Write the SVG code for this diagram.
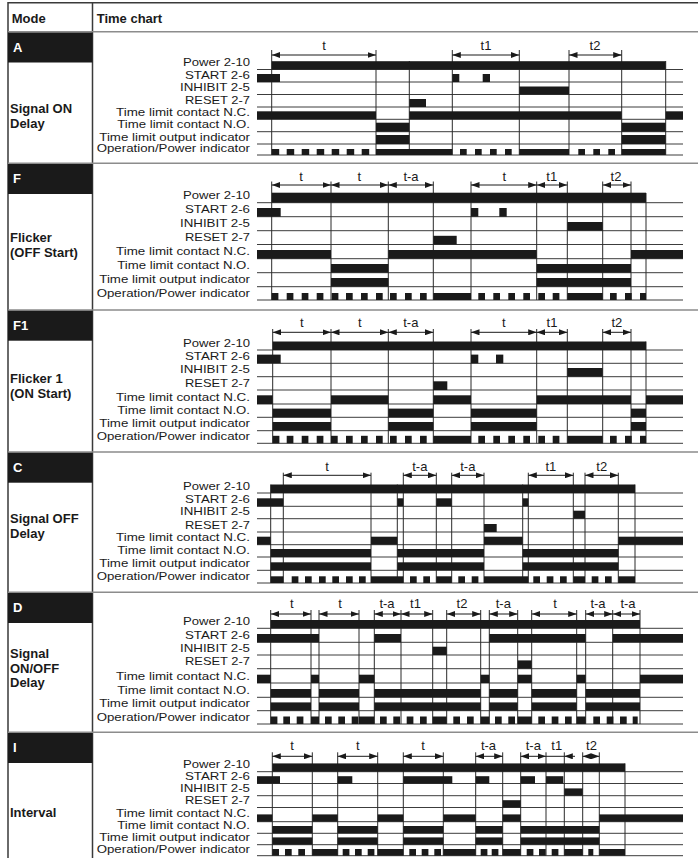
<svg xmlns="http://www.w3.org/2000/svg" width="698" height="858" viewBox="0 0 698 858">
<style>
text{font-family:"Liberation Sans",Arial,sans-serif;fill:#1a1a1a}
.hd{font-size:13px;font-weight:bold}
.bd{font-size:13px;font-weight:bold;fill:#fff}
.lb{font-size:11.5px;text-anchor:end}
.dl{font-size:13px;text-anchor:middle}
.band{fill:#1a1a1a}
.sep{stroke:#8c8c8c;stroke-width:1.5;fill:none}
.frame{stroke:#3a3a3a;stroke-width:1.5;fill:none}
.bl{stroke:#3c3c3c;stroke-width:1;fill:none}
.ev{stroke:#2a2a2a;stroke-width:1;fill:none}
.hi{fill:#1a1a1a}
.dim{stroke:#1a1a1a;stroke-width:1;marker-start:url(#ah);marker-end:url(#ah)}
.dim1{stroke:#1a1a1a;stroke-width:1}
.dimE{stroke:#1a1a1a;stroke-width:1;marker-end:url(#ah)}
</style>
<defs>
<marker id="ah" viewBox="0 0 8.5 6" refX="8.5" refY="3" markerWidth="8.5" markerHeight="6" markerUnits="userSpaceOnUse" orient="auto-start-reverse"><path d="M0,0 L8.5,3 L0,6 z" fill="#1a1a1a"/></marker>
</defs>
<rect width="698" height="858" fill="#fff"/>

<g id="table">
<path class="frame" d="M8,2.7H698M8,2V858M92.5,2.7V858"/>
<path class="sep" d="M8,31.7H698M8,163.3H698M8,310H698M8,452H698M8,592.3H698M8,732.3H698"/>
<text class="hd" x="11.7" y="22.5">Mode</text>
<text class="hd" x="96.7" y="22.5">Time chart</text>
</g>

<!-- ===== A ===== -->
<g id="mode-A">
<rect class="band" x="8" y="32.5" width="84.5" height="30"/>
<text class="bd" x="13" y="51.7">A</text>
<text class="hd" x="10" y="113">Signal ON</text>
<text class="hd" x="10" y="128">Delay</text>
<g>
<text class="lb" x="250" y="66.2" textLength="67" lengthAdjust="spacingAndGlyphs">Power 2-10</text>
<text class="lb" x="250" y="78.7" textLength="65" lengthAdjust="spacingAndGlyphs">START 2-6</text>
<text class="lb" x="250" y="91.2" textLength="70" lengthAdjust="spacingAndGlyphs">INHIBIT 2-5</text>
<text class="lb" x="250" y="103.7" textLength="65" lengthAdjust="spacingAndGlyphs">RESET 2-7</text>
<text class="lb" x="250" y="116" textLength="134" lengthAdjust="spacingAndGlyphs">Time limit contact N.C.</text>
<text class="lb" x="250" y="128.4" textLength="132.7" lengthAdjust="spacingAndGlyphs">Time limit contact N.O.</text>
<text class="lb" x="250" y="140.7" textLength="150.7" lengthAdjust="spacingAndGlyphs">Time limit output indicator</text>
<text class="lb" x="250" y="151.7" textLength="153.3" lengthAdjust="spacingAndGlyphs">Operation/Power indicator</text>
</g>
<path class="bl" d="M257,69.5H683M257,82H683M257,94.5H683M257,107H683M257,119.3H683M257,131.7H683M257,144H683M257,155H683"/>
<path class="ev" d="M271.7,50V155M376,50V155M452.3,50V155M519.3,50V155M569,50V155M621.7,50V155M409.3,61V155M665.7,61V155"/>
<g class="hi">
<rect x="271.7" y="61.2" width="394" height="8.3"/>
<rect x="257" y="74" width="23" height="8"/><rect x="452.3" y="74" width="7" height="8"/><rect x="482.7" y="74" width="7.3" height="8"/>
<rect x="519.3" y="86.5" width="49.7" height="8"/>
<rect x="409.3" y="99" width="16.7" height="8"/>
<rect x="257" y="111.3" width="119" height="8"/><rect x="409.3" y="111.3" width="212.4" height="8"/><rect x="665.7" y="111.3" width="17.3" height="8"/>
<rect x="376" y="122.7" width="33.3" height="9"/><rect x="621.7" y="122.7" width="44" height="9"/>
<rect x="376" y="135" width="33.3" height="9"/><rect x="621.7" y="135" width="44" height="9"/>
<rect x="271.7" y="149" width="7.5" height="6"/><rect x="286.7" y="149" width="7.5" height="6"/><rect x="301.7" y="149" width="7.5" height="6"/><rect x="316.7" y="149" width="7.5" height="6"/><rect x="331.7" y="149" width="7.5" height="6"/><rect x="346.7" y="149" width="7.5" height="6"/><rect x="361.7" y="149" width="7.5" height="6"/>
<rect x="376" y="149" width="76.3" height="6"/>
<rect x="460" y="149" width="6.7" height="6"/><rect x="475" y="149" width="6.7" height="6"/><rect x="490" y="149" width="6.7" height="6"/><rect x="505" y="149" width="6.7" height="6"/>
<rect x="519.3" y="149" width="49.7" height="6"/>
<rect x="578.3" y="149" width="6.7" height="6"/><rect x="593.3" y="149" width="6.7" height="6"/><rect x="608.3" y="149" width="6.7" height="6"/>
<rect x="621.7" y="149" width="44" height="6"/>
</g>
<text class="dl" x="324" y="49.5">t</text>
<text class="dl" x="486" y="49.5">t1</text>
<text class="dl" x="595" y="49.5">t2</text>
</g>

<!-- ===== F ===== -->
<g id="mode-F">
<rect class="band" x="8" y="164" width="84.5" height="30"/>
<text class="bd" x="13" y="183.3">F</text>
<text class="hd" x="10" y="242">Flicker</text>
<text class="hd" x="10" y="256.5">(OFF Start)</text>
<g>
<text class="lb" x="250" y="199.4" textLength="67" lengthAdjust="spacingAndGlyphs">Power 2-10</text>
<text class="lb" x="250" y="213.4" textLength="65" lengthAdjust="spacingAndGlyphs">START 2-6</text>
<text class="lb" x="250" y="227.4" textLength="70" lengthAdjust="spacingAndGlyphs">INHIBIT 2-5</text>
<text class="lb" x="250" y="241.2" textLength="65" lengthAdjust="spacingAndGlyphs">RESET 2-7</text>
<text class="lb" x="250" y="255.4" textLength="134" lengthAdjust="spacingAndGlyphs">Time limit contact N.C.</text>
<text class="lb" x="250" y="269.4" textLength="132.7" lengthAdjust="spacingAndGlyphs">Time limit contact N.O.</text>
<text class="lb" x="250" y="283.4" textLength="150.7" lengthAdjust="spacingAndGlyphs">Time limit output indicator</text>
<text class="lb" x="250" y="296.7" textLength="153.3" lengthAdjust="spacingAndGlyphs">Operation/Power indicator</text>
</g>
<path class="bl" d="M257,202.7H683M257,216.7H683M257,230.7H683M257,244.5H683M257,258.7H683M257,272.7H683M257,286.7H683M257,300H683"/>
<path class="ev" d="M271.7,181.5V300M331,181.5V300M388.3,181.5V300M433.3,181.5V300M471,181.5V300M536.7,181.5V300M567.3,181.5V300M602.7,181.5V300M631,181.5V300M646,193V300"/>
<g class="hi">
<rect x="271.7" y="192.7" width="374.3" height="10"/>
<rect x="257" y="208" width="23.7" height="8.7"/><rect x="471" y="208" width="7.3" height="8.7"/><rect x="499.3" y="208" width="7.4" height="8.7"/>
<rect x="567.3" y="222" width="35.4" height="8.7"/>
<rect x="433.3" y="235.8" width="23.4" height="8.7"/>
<rect x="257" y="250" width="74" height="8.7"/><rect x="388.3" y="250" width="148.4" height="8.7"/><rect x="631" y="250" width="52" height="8.7"/>
<rect x="331" y="264" width="57.3" height="8.7"/><rect x="536.7" y="264" width="94.3" height="8.7"/>
<rect x="331" y="278" width="57.3" height="8.7"/><rect x="536.7" y="278" width="94.3" height="8.7"/>
<rect x="271.7" y="293" width="6.7" height="7"/><rect x="286.7" y="293" width="6.7" height="7"/><rect x="301.7" y="293" width="6.7" height="7"/><rect x="316.7" y="293" width="6.7" height="7"/><rect x="331.7" y="293" width="6.7" height="7"/><rect x="346" y="293" width="6.7" height="7"/><rect x="361" y="293" width="6.7" height="7"/><rect x="376" y="293" width="6.7" height="7"/><rect x="390" y="293" width="6.7" height="7"/><rect x="405" y="293" width="6.7" height="7"/><rect x="420" y="293" width="6.7" height="7"/>
<rect x="433.3" y="293" width="37.7" height="7"/>
<rect x="478.3" y="293" width="6.7" height="7"/><rect x="493.3" y="293" width="6.7" height="7"/><rect x="508.3" y="293" width="6.7" height="7"/><rect x="523.3" y="293" width="6.7" height="7"/><rect x="538.3" y="293" width="6.7" height="7"/><rect x="552.7" y="293" width="6.7" height="7"/>
<rect x="567.3" y="293" width="35.4" height="7"/>
<rect x="610" y="293" width="6.7" height="7"/><rect x="625" y="293" width="6.7" height="7"/><rect x="640" y="293" width="6" height="7"/>
</g>
<text class="dl" x="301" y="181">t</text>
<text class="dl" x="359.3" y="181">t</text>
<text class="dl" x="411" y="181">t-a</text>
<text class="dl" x="504.3" y="181">t</text>
<text class="dl" x="551.7" y="181">t1</text>
<text class="dl" x="616" y="181">t2</text>
</g>

<!-- ===== F1 ===== -->
<g id="mode-F1">
<rect class="band" x="8" y="310.7" width="84.5" height="30"/>
<text class="bd" x="13" y="330">F1</text>
<text class="hd" x="10" y="383">Flicker 1</text>
<text class="hd" x="10" y="397.5">(ON Start)</text>
<g>
<text class="lb" x="250" y="346.7" textLength="67" lengthAdjust="spacingAndGlyphs">Power 2-10</text>
<text class="lb" x="250" y="360" textLength="65" lengthAdjust="spacingAndGlyphs">START 2-6</text>
<text class="lb" x="250" y="373.4" textLength="70" lengthAdjust="spacingAndGlyphs">INHIBIT 2-5</text>
<text class="lb" x="250" y="386.7" textLength="65" lengthAdjust="spacingAndGlyphs">RESET 2-7</text>
<text class="lb" x="250" y="400.7" textLength="134" lengthAdjust="spacingAndGlyphs">Time limit contact N.C.</text>
<text class="lb" x="250" y="414" textLength="132.7" lengthAdjust="spacingAndGlyphs">Time limit contact N.O.</text>
<text class="lb" x="250" y="427.4" textLength="150.7" lengthAdjust="spacingAndGlyphs">Time limit output indicator</text>
<text class="lb" x="250" y="440" textLength="153.3" lengthAdjust="spacingAndGlyphs">Operation/Power indicator</text>
</g>
<path class="bl" d="M257,350H683M257,363.3H683M257,376.7H683M257,390H683M257,404H683M257,417.3H683M257,430.7H683M257,443.3H683"/>
<path class="ev" d="M272.7,329V443.3M331,329V443.3M388.3,329V443.3M433.3,329V443.3M471,329V443.3M536.7,329V443.3M567.3,329V443.3M602.7,329V443.3M631,329V443.3M646,341.5V443.3"/>
<g class="hi">
<rect x="272.7" y="341.5" width="373.3" height="8.5"/>
<rect x="257" y="354.6" width="23.7" height="8.7"/><rect x="471" y="354.6" width="7.3" height="8.7"/><rect x="496" y="354.6" width="7.3" height="8.7"/>
<rect x="567.3" y="368" width="35.4" height="8.7"/>
<rect x="433.3" y="381.3" width="14" height="8.7"/>
<rect x="257" y="395.3" width="15.7" height="8.7"/><rect x="331" y="395.3" width="57.3" height="8.7"/><rect x="433.3" y="395.3" width="37.7" height="8.7"/><rect x="536.7" y="395.3" width="94.3" height="8.7"/><rect x="646" y="395.3" width="37" height="8.7"/>
<rect x="272.7" y="408.6" width="58.3" height="8.7"/><rect x="388.3" y="408.6" width="45" height="8.7"/><rect x="471" y="408.6" width="65.7" height="8.7"/><rect x="631" y="408.6" width="15" height="8.7"/>
<rect x="272.7" y="422" width="58.3" height="8.7"/><rect x="388.3" y="422" width="45" height="8.7"/><rect x="471" y="422" width="65.7" height="8.7"/><rect x="631" y="422" width="15" height="8.7"/>
<rect x="272.7" y="435.8" width="6.7" height="7.5"/><rect x="286.7" y="435.8" width="6.7" height="7.5"/><rect x="301.7" y="435.8" width="6.7" height="7.5"/><rect x="316.7" y="435.8" width="6.7" height="7.5"/><rect x="331" y="435.8" width="6.7" height="7.5"/><rect x="346" y="435.8" width="6.7" height="7.5"/><rect x="361" y="435.8" width="6.7" height="7.5"/><rect x="376" y="435.8" width="6.7" height="7.5"/><rect x="390" y="435.8" width="6.7" height="7.5"/><rect x="405" y="435.8" width="6.7" height="7.5"/><rect x="420" y="435.8" width="6.7" height="7.5"/>
<rect x="433.3" y="435.8" width="37.7" height="7.5"/>
<rect x="478.3" y="435.8" width="6.7" height="7.5"/><rect x="493.3" y="435.8" width="6.7" height="7.5"/><rect x="508.3" y="435.8" width="6.7" height="7.5"/><rect x="523.3" y="435.8" width="6.7" height="7.5"/><rect x="538.3" y="435.8" width="6.7" height="7.5"/><rect x="552.7" y="435.8" width="6.7" height="7.5"/>
<rect x="567.3" y="435.8" width="35.4" height="7.5"/>
<rect x="610" y="435.8" width="6.7" height="7.5"/><rect x="625" y="435.8" width="6.7" height="7.5"/><rect x="640" y="435.8" width="6" height="7.5"/>
</g>
<text class="dl" x="301.8" y="327">t</text>
<text class="dl" x="359.7" y="327">t</text>
<text class="dl" x="410.8" y="327">t-a</text>
<text class="dl" x="503.8" y="327">t</text>
<text class="dl" x="552" y="327">t1</text>
<text class="dl" x="616.8" y="327">t2</text>
</g>

<!-- ===== C ===== -->
<g id="mode-C">
<rect class="band" x="8" y="452.7" width="84.5" height="30"/>
<text class="bd" x="13" y="472">C</text>
<text class="hd" x="10" y="523">Signal OFF</text>
<text class="hd" x="10" y="538">Delay</text>
<g>
<text class="lb" x="250" y="489.7" textLength="67" lengthAdjust="spacingAndGlyphs">Power 2-10</text>
<text class="lb" x="250" y="503" textLength="65" lengthAdjust="spacingAndGlyphs">START 2-6</text>
<text class="lb" x="250" y="515.4" textLength="70" lengthAdjust="spacingAndGlyphs">INHIBIT 2-5</text>
<text class="lb" x="250" y="528.7" textLength="65" lengthAdjust="spacingAndGlyphs">RESET 2-7</text>
<text class="lb" x="250" y="541.4" textLength="134" lengthAdjust="spacingAndGlyphs">Time limit contact N.C.</text>
<text class="lb" x="250" y="553.7" textLength="132.7" lengthAdjust="spacingAndGlyphs">Time limit contact N.O.</text>
<text class="lb" x="250" y="567" textLength="150.7" lengthAdjust="spacingAndGlyphs">Time limit output indicator</text>
<text class="lb" x="250" y="579.7" textLength="153.3" lengthAdjust="spacingAndGlyphs">Operation/Power indicator</text>
</g>
<path class="bl" d="M257,493H683M257,506.3H683M257,518.7H683M257,532H683M257,544.7H683M257,557H683M257,570.3H683M257,583H683"/>
<path class="ev" d="M283.3,472.7V583M371,472.7V583M403.3,472.7V583M436.3,472.7V583M451.7,472.7V583M484,472.7V583M528.3,472.7V583M573.3,472.7V583M585,472.7V583M618.3,472.7V583M270.7,484.5V583M397.3,484.5V583M522.7,484.5V583M635,484.5V583"/>
<g class="hi">
<rect x="270.7" y="484.5" width="364.3" height="8.5"/>
<rect x="257" y="498.3" width="26.3" height="8"/><rect x="397.3" y="498.3" width="6" height="8"/><rect x="436.3" y="498.3" width="15.4" height="8"/><rect x="522.7" y="498.3" width="5.6" height="8"/>
<rect x="573.3" y="510.7" width="11.7" height="8"/>
<rect x="484" y="524" width="12.7" height="8"/>
<rect x="257" y="536.7" width="13.7" height="8"/><rect x="371" y="536.7" width="26.3" height="8"/><rect x="484" y="536.7" width="38.7" height="8"/><rect x="618.3" y="536.7" width="64.7" height="8"/>
<rect x="270.7" y="549" width="100.3" height="8"/><rect x="397.3" y="549" width="86.7" height="8"/><rect x="522.7" y="549" width="95.6" height="8"/>
<rect x="270.7" y="562.3" width="100.3" height="8"/><rect x="397.3" y="562.3" width="86.7" height="8"/><rect x="522.7" y="562.3" width="95.6" height="8"/>
<rect x="270.7" y="576.3" width="12.6" height="6.7"/>
<rect x="291.7" y="576.3" width="6.7" height="6.7"/><rect x="305" y="576.3" width="6.7" height="6.7"/><rect x="319" y="576.3" width="6.7" height="6.7"/><rect x="332.3" y="576.3" width="6.7" height="6.7"/><rect x="346" y="576.3" width="6.7" height="6.7"/><rect x="359" y="576.3" width="6.7" height="6.7"/>
<rect x="371" y="576.3" width="32.3" height="6.7"/>
<rect x="410" y="576.3" width="6.7" height="6.7"/><rect x="423.3" y="576.3" width="6.7" height="6.7"/>
<rect x="436.3" y="576.3" width="15.4" height="6.7"/>
<rect x="458.3" y="576.3" width="6.7" height="6.7"/><rect x="471.7" y="576.3" width="6.7" height="6.7"/>
<rect x="484" y="576.3" width="44.3" height="6.7"/>
<rect x="533.3" y="576.3" width="6.7" height="6.7"/><rect x="546.7" y="576.3" width="6.7" height="6.7"/><rect x="560" y="576.3" width="6.7" height="6.7"/>
<rect x="573.3" y="576.3" width="11.7" height="6.7"/>
<rect x="591.7" y="576.3" width="6.7" height="6.7"/><rect x="605" y="576.3" width="6.7" height="6.7"/>
<rect x="618.3" y="576.3" width="16.7" height="6.7"/>
</g>
<text class="dl" x="327" y="470.5">t</text>
<text class="dl" x="419.8" y="470.5">t-a</text>
<text class="dl" x="467.8" y="470.5">t-a</text>
<text class="dl" x="550.8" y="470.5">t1</text>
<text class="dl" x="601.7" y="470.5">t2</text>
</g>

<!-- ===== D ===== -->
<g id="mode-D">
<rect class="band" x="8" y="593" width="84.5" height="30"/>
<text class="bd" x="13" y="612.3">D</text>
<text class="hd" x="10" y="658">Signal</text>
<text class="hd" x="10" y="672.5">ON/OFF</text>
<text class="hd" x="10" y="687">Delay</text>
<g>
<text class="lb" x="250" y="625" textLength="67" lengthAdjust="spacingAndGlyphs">Power 2-10</text>
<text class="lb" x="250" y="639" textLength="65" lengthAdjust="spacingAndGlyphs">START 2-6</text>
<text class="lb" x="250" y="651.7" textLength="70" lengthAdjust="spacingAndGlyphs">INHIBIT 2-5</text>
<text class="lb" x="250" y="665.4" textLength="65" lengthAdjust="spacingAndGlyphs">RESET 2-7</text>
<text class="lb" x="250" y="679.7" textLength="134" lengthAdjust="spacingAndGlyphs">Time limit contact N.C.</text>
<text class="lb" x="250" y="694" textLength="132.7" lengthAdjust="spacingAndGlyphs">Time limit contact N.O.</text>
<text class="lb" x="250" y="707.4" textLength="150.7" lengthAdjust="spacingAndGlyphs">Time limit output indicator</text>
<text class="lb" x="250" y="720.7" textLength="153.3" lengthAdjust="spacingAndGlyphs">Operation/Power indicator</text>
</g>
<path class="bl" d="M257,628.3H683M257,642.3H683M257,655H683M257,668.7H683M257,683H683M257,697.3H683M257,710.7H683M257,724H683"/>
<path class="ev" d="M270.7,610V724M311,610V724M319,610V724M359,610V724M374.3,610V724M401,610V724M432.7,610V724M446.7,610V724M480.7,610V724M489.3,610V724M517.7,610V724M531.7,610V724M576.7,610V724M585.7,610V724M612.7,610V724M640,610V724"/>
<g class="hi">
<rect x="270.7" y="620" width="369.3" height="8.3"/>
<rect x="257" y="634" width="62" height="8.3"/><rect x="374.3" y="634" width="26.7" height="8.3"/><rect x="489.3" y="634" width="96.4" height="8.3"/><rect x="612.7" y="634" width="70.3" height="8.3"/>
<rect x="432.7" y="646.7" width="14" height="8.3"/>
<rect x="517.7" y="660.4" width="14" height="8.3"/>
<rect x="257" y="674.7" width="13.7" height="8.3"/><rect x="311" y="674.7" width="8" height="8.3"/><rect x="359" y="674.7" width="15.3" height="8.3"/><rect x="480.7" y="674.7" width="8.6" height="8.3"/><rect x="517.7" y="674.7" width="14" height="8.3"/><rect x="576.7" y="674.7" width="9" height="8.3"/><rect x="640" y="674.7" width="43" height="8.3"/>
<rect x="270.7" y="689" width="40.3" height="8.3"/><rect x="319" y="689" width="40" height="8.3"/><rect x="374.3" y="689" width="106.4" height="8.3"/><rect x="489.3" y="689" width="28.4" height="8.3"/><rect x="531.7" y="689" width="45" height="8.3"/><rect x="585.7" y="689" width="54.3" height="8.3"/>
<rect x="270.7" y="702.4" width="40.3" height="8.3"/><rect x="319" y="702.4" width="40" height="8.3"/><rect x="374.3" y="702.4" width="106.4" height="8.3"/><rect x="489.3" y="702.4" width="28.4" height="8.3"/><rect x="531.7" y="702.4" width="45" height="8.3"/><rect x="585.7" y="702.4" width="54.3" height="8.3"/>
<rect x="270.7" y="716.5" width="6.7" height="7.5"/><rect x="283.3" y="716.5" width="6.7" height="7.5"/><rect x="296.7" y="716.5" width="6.7" height="7.5"/>
<rect x="311" y="716.5" width="8" height="7.5"/>
<rect x="325" y="716.5" width="6.7" height="7.5"/><rect x="338.3" y="716.5" width="6.7" height="7.5"/><rect x="351.7" y="716.5" width="6.7" height="7.5"/>
<rect x="359" y="716.5" width="15.3" height="7.5"/>
<rect x="380" y="716.5" width="6.7" height="7.5"/><rect x="393.3" y="716.5" width="6.7" height="7.5"/><rect x="406.7" y="716.5" width="6.7" height="7.5"/><rect x="420" y="716.5" width="6.7" height="7.5"/>
<rect x="432.7" y="716.5" width="14" height="7.5"/>
<rect x="453.3" y="716.5" width="6.7" height="7.5"/><rect x="467" y="716.5" width="6.7" height="7.5"/>
<rect x="480.7" y="716.5" width="8.6" height="7.5"/>
<rect x="495" y="716.5" width="6.7" height="7.5"/><rect x="508.3" y="716.5" width="6.7" height="7.5"/>
<rect x="517.7" y="716.5" width="14" height="7.5"/>
<rect x="538.3" y="716.5" width="6.7" height="7.5"/><rect x="551.7" y="716.5" width="6.7" height="7.5"/><rect x="565" y="716.5" width="6.7" height="7.5"/>
<rect x="576.7" y="716.5" width="9" height="7.5"/>
<rect x="593.3" y="716.5" width="6.7" height="7.5"/><rect x="606.7" y="716.5" width="6.7" height="7.5"/><rect x="620" y="716.5" width="6.7" height="7.5"/><rect x="632.7" y="716.5" width="5" height="7.5"/>
</g>
<text class="dl" x="291.7" y="607.5">t</text>
<text class="dl" x="340" y="607.5">t</text>
<text class="dl" x="387" y="607.5">t-a</text>
<text class="dl" x="415.5" y="607.5">t1</text>
<text class="dl" x="462" y="607.5">t2</text>
<text class="dl" x="503.3" y="607.5">t-a</text>
<text class="dl" x="555" y="607.5">t</text>
<text class="dl" x="598" y="607.5">t-a</text>
<text class="dl" x="628" y="607.5">t-a</text>
</g>

<!-- ===== I ===== -->
<g id="mode-I">
<rect class="band" x="8" y="733" width="84.5" height="30"/>
<text class="bd" x="13" y="752.3">I</text>
<text class="hd" x="10" y="817">Interval</text>
<g>
<text class="lb" x="250" y="768.4" textLength="67" lengthAdjust="spacingAndGlyphs">Power 2-10</text>
<text class="lb" x="250" y="780.2" textLength="65" lengthAdjust="spacingAndGlyphs">START 2-6</text>
<text class="lb" x="250" y="792.4" textLength="70" lengthAdjust="spacingAndGlyphs">INHIBIT 2-5</text>
<text class="lb" x="250" y="804.2" textLength="65" lengthAdjust="spacingAndGlyphs">RESET 2-7</text>
<text class="lb" x="250" y="817.4" textLength="134" lengthAdjust="spacingAndGlyphs">Time limit contact N.C.</text>
<text class="lb" x="250" y="829" textLength="132.7" lengthAdjust="spacingAndGlyphs">Time limit contact N.O.</text>
<text class="lb" x="250" y="841.4" textLength="150.7" lengthAdjust="spacingAndGlyphs">Time limit output indicator</text>
<text class="lb" x="250" y="853.4" textLength="153.3" lengthAdjust="spacingAndGlyphs">Operation/Power indicator</text>
</g>
<path class="bl" d="M257,771.7H683M257,783.5H683M257,795.7H683M257,807.5H683M257,821.7H683M257,833.3H683M257,844.7H683M257,855.7H683"/>
<path class="ev" d="M272.3,752.3V855.7M312.3,752.3V855.7M337.7,752.3V855.7M377.7,752.3V855.7M403.3,752.3V855.7M443.3,752.3V855.7M475.7,752.3V855.7M502.7,752.3V855.7M520.7,752.3V855.7M546,752.3V855.7M564.3,752.3V855.7M582.7,752.3V855.7M599.3,752.3V855.7M625,763.4V855.7"/>
<g class="hi">
<rect x="272.3" y="763.4" width="352.7" height="8.3"/>
<rect x="257" y="776.2" width="23" height="7.3"/><rect x="337.7" y="776.2" width="14.6" height="7.3"/><rect x="403.3" y="776.2" width="49" height="7.3"/><rect x="475.7" y="776.2" width="13.6" height="7.3"/><rect x="520.7" y="776.2" width="14.3" height="7.3"/><rect x="546" y="776.2" width="17.3" height="7.3"/>
<rect x="564.3" y="788.4" width="18.4" height="7.3"/>
<rect x="502.7" y="800.2" width="18" height="7.3"/>
<rect x="257" y="814.4" width="15.3" height="7.3"/><rect x="312.3" y="814.4" width="25.4" height="7.3"/><rect x="377.7" y="814.4" width="25.6" height="7.3"/><rect x="443.3" y="814.4" width="32.4" height="7.3"/><rect x="502.7" y="814.4" width="18" height="7.3"/><rect x="599.3" y="814.4" width="83.7" height="7.3"/>
<rect x="272.3" y="826" width="40" height="7.3"/><rect x="337.7" y="826" width="40" height="7.3"/><rect x="403.3" y="826" width="40" height="7.3"/><rect x="475.7" y="826" width="27" height="7.3"/><rect x="520.7" y="826" width="78.6" height="7.3"/>
<rect x="272.3" y="837.4" width="40" height="7.3"/><rect x="337.7" y="837.4" width="40" height="7.3"/><rect x="403.3" y="837.4" width="40" height="7.3"/><rect x="475.7" y="837.4" width="27" height="7.3"/><rect x="520.7" y="837.4" width="78.6" height="7.3"/>
<rect x="272.3" y="849" width="6.7" height="6.7"/><rect x="285" y="849" width="6.7" height="6.7"/><rect x="298.3" y="849" width="6.7" height="6.7"/>
<rect x="312.3" y="849" width="25.4" height="6.7"/>
<rect x="342.7" y="849" width="6.7" height="6.7"/><rect x="355" y="849" width="6.7" height="6.7"/><rect x="367.7" y="849" width="6.7" height="6.7"/>
<rect x="377.7" y="849" width="25.6" height="6.7"/>
<rect x="409.3" y="849" width="6.7" height="6.7"/><rect x="421.7" y="849" width="6.7" height="6.7"/><rect x="434.3" y="849" width="6.7" height="6.7"/>
<rect x="443.3" y="849" width="32.4" height="6.7"/>
<rect x="480.7" y="849" width="6.7" height="6.7"/><rect x="491.7" y="849" width="6.7" height="6.7"/>
<rect x="502.7" y="849" width="18" height="6.7"/>
<rect x="526.7" y="849" width="6.7" height="6.7"/><rect x="539" y="849" width="6.7" height="6.7"/><rect x="551.7" y="849" width="6.7" height="6.7"/>
<rect x="564.3" y="849" width="18.4" height="6.7"/>
<rect x="588.3" y="849" width="5" height="6.7"/>
<rect x="599.3" y="849" width="25.7" height="6.7"/>
</g>
<text class="dl" x="292" y="750">t</text>
<text class="dl" x="357.7" y="750">t</text>
<text class="dl" x="423" y="750">t</text>
<text class="dl" x="488.5" y="750">t-a</text>
<text class="dl" x="533.3" y="750">t-a</text>
<text class="dl" x="556.7" y="750">t1</text>
<text class="dl" x="591.5" y="750">t2</text>
</g>

<!-- ===== dimension arrows ===== -->
<g id="connectors">
<line class="dim" x1="271.7" y1="55" x2="376" y2="55"/>
<line class="dim" x1="452.3" y1="55" x2="519.3" y2="55"/>
<line class="dim" x1="569" y1="55" x2="621.7" y2="55"/>

<line class="dim" x1="271.7" y1="185" x2="331" y2="185"/>
<line class="dim" x1="331" y1="185" x2="388.3" y2="185"/>
<line class="dim" x1="388.3" y1="185" x2="433.3" y2="185"/>
<line class="dim" x1="471" y1="185" x2="536.7" y2="185"/>
<line class="dim" x1="536.7" y1="185" x2="567.3" y2="185"/>
<line class="dim" x1="602.7" y1="185" x2="631" y2="185"/>

<line class="dim" x1="272.7" y1="332.3" x2="331" y2="332.3"/>
<line class="dim" x1="331" y1="332.3" x2="388.3" y2="332.3"/>
<line class="dim" x1="388.3" y1="332.3" x2="433.3" y2="332.3"/>
<line class="dim" x1="471" y1="332.3" x2="536.7" y2="332.3"/>
<line class="dim" x1="536.7" y1="332.3" x2="567.3" y2="332.3"/>
<line class="dim" x1="602.7" y1="332.3" x2="631" y2="332.3"/>

<line class="dim" x1="283.3" y1="475.3" x2="371" y2="475.3"/>
<line class="dim" x1="403.3" y1="475.3" x2="436.3" y2="475.3"/>
<line class="dim" x1="451.7" y1="475.3" x2="484" y2="475.3"/>
<line class="dim" x1="528.3" y1="475.3" x2="573.3" y2="475.3"/>
<line class="dim" x1="585" y1="475.3" x2="618.3" y2="475.3"/>

<line class="dim" x1="270.7" y1="614" x2="311" y2="614"/>
<line class="dim" x1="319" y1="614" x2="359" y2="614"/>
<line class="dim" x1="374.3" y1="614" x2="401" y2="614"/>
<line class="dim" x1="401" y1="614" x2="432.7" y2="614"/>
<line class="dim" x1="446.7" y1="614" x2="480.7" y2="614"/>
<line class="dim" x1="489.3" y1="614" x2="517.7" y2="614"/>
<line class="dim" x1="531.7" y1="614" x2="576.7" y2="614"/>
<line class="dim" x1="585.7" y1="614" x2="612.7" y2="614"/>
<line class="dim" x1="612.7" y1="614" x2="640" y2="614"/>

<line class="dim" x1="272.3" y1="756.3" x2="312.3" y2="756.3"/>
<line class="dim" x1="337.7" y1="756.3" x2="377.7" y2="756.3"/>
<line class="dim" x1="403.3" y1="756.3" x2="443.3" y2="756.3"/>
<line class="dim" x1="475.7" y1="756.3" x2="502.7" y2="756.3"/>
<line class="dim" x1="520.7" y1="756.3" x2="546" y2="756.3"/>
<line class="dim1" x1="546" y1="756.3" x2="564.3" y2="756.3"/>
<line class="dimE" x1="575" y1="756.3" x2="564.3" y2="756.3"/>
<line class="dim" x1="582.7" y1="756.3" x2="599.3" y2="756.3"/>
</g>
</svg>
